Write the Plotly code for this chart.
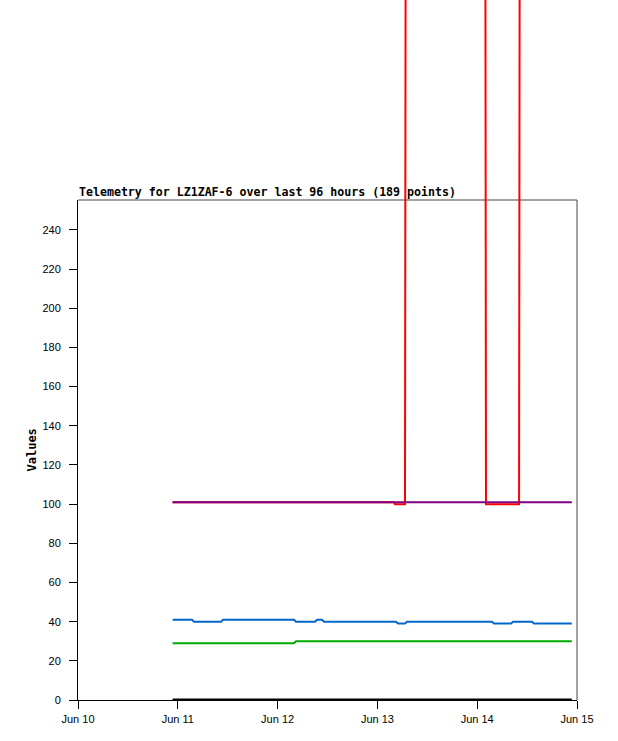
import plotly.graph_objects as go

# ---------------- data ----------------
title_text = "Telemetry for LZ1ZAF-6 over last 96 hours (189 points)"
y_title = "Values"

x_tickvals = ["2024-06-10", "2024-06-11", "2024-06-12", "2024-06-13", "2024-06-14", "2024-06-15"]
x_ticktext = ["Jun 10", "Jun 11", "Jun 12", "Jun 13", "Jun 14", "Jun 15"]
y_tickvals = [0, 20, 40, 60, 80, 100, 120, 140, 160, 180, 200, 220, 240]

black_t = ["2024-06-10 22:45", "2024-06-14 22:45"]
black_v = [0, 0]

green_t = ["2024-06-10 22:45", "2024-06-12 03:57", "2024-06-12 04:26", "2024-06-14 22:45"]
green_v = [29, 29, 30, 30]

blue_t = ["2024-06-10 22:45", "2024-06-11 03:25", "2024-06-11 03:54", "2024-06-11 10:23",
          "2024-06-11 10:52", "2024-06-12 03:57", "2024-06-12 04:26", "2024-06-12 09:00",
          "2024-06-12 09:29", "2024-06-12 10:41", "2024-06-12 11:10", "2024-06-13 04:29",
          "2024-06-13 04:58", "2024-06-13 06:38", "2024-06-13 07:07", "2024-06-14 03:34",
          "2024-06-14 04:03", "2024-06-14 08:08", "2024-06-14 08:37", "2024-06-14 13:11",
          "2024-06-14 13:40", "2024-06-14 22:45"]
blue_v = [41, 41, 40, 40, 41, 41, 40, 40, 41, 41, 40, 40, 39, 39, 40, 40, 39, 39, 40, 40, 39, 39]

red_t = ["2024-06-10 22:45", "2024-06-13 04:00", "2024-06-13 04:14", "2024-06-13 06:38",
         "2024-06-13 06:53", "2024-06-14 01:53", "2024-06-14 02:07", "2024-06-14 10:04",
         "2024-06-14 10:18", "2024-06-14 22:45"]
red_v = [101, 101, 100, 100, 550, 550, 100, 100, 550, 550]

purple_t = ["2024-06-10 22:45", "2024-06-14 22:45"]
purple_v = [101, 101]

# ---------------- figure ----------------
Y_TOP = 255.3
FRAC = 500.0 / 700.0

fig = go.Figure()
# zero line lives on the boxed axis (it never leaves the box)
fig.add_trace(go.Scatter(x=black_t, y=black_v, mode="lines", yaxis="y",
                         line=dict(color="#000000", width=3), showlegend=False,
                         hoverinfo="skip", cliponaxis=False))
# the other series use a full-height twin axis with identical scale,
# so values above the box run up past it, as in the original
series = [
    (green_t, green_v, "#00AA00"),
    (blue_t, blue_v, "#0066CC"),
    (red_t, red_v, "#FF0000"),
    (purple_t, purple_v, "#800080"),
]
for t, v, c in series:
    fig.add_trace(go.Scatter(x=t, y=v, mode="lines", yaxis="y2",
                             line=dict(color=c, width=2), showlegend=False,
                             hoverinfo="skip"))

tick_font = dict(family="Liberation Sans", size=11, color="#000000")

fig.update_layout(
    width=618, height=741,
    margin=dict(l=78, r=41, t=0, b=41, autoexpand=False),
    paper_bgcolor="white", plot_bgcolor="rgba(0,0,0,0)",
    showlegend=False,
    xaxis=dict(
        type="date", range=["2024-06-10", "2024-06-15"],
        tickvals=x_tickvals, ticktext=x_ticktext,
        ticks="outside", ticklen=8, tickcolor="#000000", tickwidth=1,
        showline=True, linecolor="#000000", linewidth=1,
        showgrid=False, zeroline=False, tickfont=tick_font,
        anchor="y", fixedrange=True, automargin=False, ticklabelstandoff=1,
    ),
    yaxis=dict(
        domain=[0, FRAC], range=[0, Y_TOP],
        tickvals=y_tickvals,
        ticks="outside", ticklen=8, tickcolor="#000000", tickwidth=1,
        showline=True, linecolor="#000000", linewidth=1,
        showgrid=False, zeroline=False, tickfont=tick_font,
        anchor="x", fixedrange=True, automargin=False, ticklabelstandoff=6,
    ),
    yaxis2=dict(
        domain=[0, 1], range=[0, Y_TOP / FRAC],
        visible=False, showgrid=False, zeroline=False,
        anchor="x", fixedrange=True,
    ),
    shapes=[
        dict(type="line", xref="paper", yref="paper", x0=0, x1=1, y0=FRAC, y1=FRAC,
             line=dict(color="#444444", width=1), layer="below"),
        dict(type="line", xref="paper", yref="paper", x0=1, x1=1, y0=0, y1=FRAC,
             line=dict(color="#444444", width=1), layer="below"),
    ],
    annotations=[
        dict(text="<b>" + title_text + "</b>", xref="paper", yref="paper",
             x=0, y=FRAC, xanchor="left", yanchor="bottom", showarrow=False,
             font=dict(family="DejaVu Sans Mono", size=11.6, color="#000000"),
             borderpad=0, yshift=0),
        dict(text="<b>" + y_title + "</b>", xref="paper", yref="paper",
             x=(31.5 - 78) / 499.0, y=FRAC / 2, xanchor="center", yanchor="middle",
             textangle=-90, showarrow=False,
             font=dict(family="DejaVu Sans Mono", size=12, color="#000000")),
    ],
)

fig.write_html("out.html",
               config={"displayModeBar": False},
               post_script="document.body.style.margin='0';document.body.style.padding='0';")
